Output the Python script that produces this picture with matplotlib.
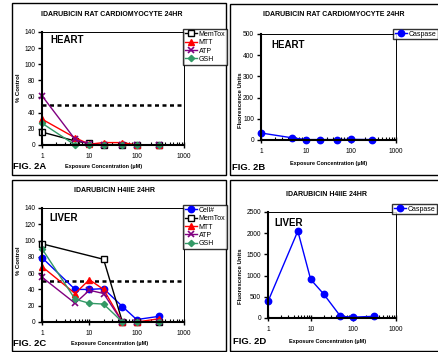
import matplotlib
matplotlib.use("Agg")
import matplotlib.pyplot as plt
from matplotlib.patches import Rectangle
from matplotlib.ticker import LogLocator, NullFormatter, FixedLocator

plt.rcParams['font.family'] = ['Liberation Sans', 'DejaVu Sans']

# ---------------- data ----------------
conc = [1, 5, 10, 20, 50, 100, 300]
heart_memtox = [16, 5, 2, 0, 0, 0, 0]
heart_mtt = [32, 9, 1, 3, 3, 0, 0]
heart_atp = [61, 7, 1, 0, 0, 0, 0]
heart_gsh = [27, 0, 0, 0, 0, 0, 0]
heart_caspase = [33, 10, 2, 2, 2, 3, 2]

liver_memtox_conc = [1, 20, 50, 100, 300]
liver_memtox = [96, 77, 0, 0, 0]
liver_cell = [79, 40, 40, 41, 19, 3, 7]
liver_mtt = [68, 35, 52, 40, 0, 0, 4]
liver_atp = [55, 23, 39, 35, 0, 0, 0]
liver_gsh = [90, 28, 23, 22, 0, 0, 0]
liver_caspase = [390, 2050, 910, 570, 40, 20, 40]

xticks = [1, 10, 100, 1000]
pct_yticks = [0, 20, 40, 60, 80, 100, 120, 140]
heart_cas_yticks = [0, 100, 200, 300, 400, 500]
liver_cas_yticks = [0, 500, 1000, 1500, 2000, 2500]

W, H = 438, 352
fig = plt.figure(figsize=(W / 100, H / 100), dpi=100)
fig.patch.set_facecolor('white')


def fx(x):
    return x / W


def fy(y):
    return 1 - y / H


def add_ax(l, t, r, b):
    return fig.add_axes([l / W, 1 - b / H, (r - l) / W, (b - t) / H])


def frame(l, t, r, b):
    fig.add_artist(Rectangle((fx(l), fy(b)), (r - l) / W, (b - t) / H,
                             transform=fig.transFigure, fill=False,
                             edgecolor='black', linewidth=1.0))


def ftext(x, y, s, **kw):
    fig.text(fx(x), fy(y), s, **kw)


def style_ax(ax, yticks):
    ax.set_xscale('log')
    ax.set_xlim(1, 1000)
    ax.set_ylim(yticks[0], yticks[-1])
    ax.xaxis.set_major_locator(FixedLocator(xticks))
    ax.set_xticklabels([str(v) for v in xticks])
    ax.xaxis.set_minor_locator(LogLocator(base=10, subs=range(2, 10)))
    ax.xaxis.set_minor_formatter(NullFormatter())
    ax.set_yticks(yticks)
    ax.set_yticklabels([str(v) for v in yticks])
    for s in ['left', 'bottom']:
        ax.spines[s].set_linewidth(1.5)
    for s in ['top', 'right']:
        ax.spines[s].set_linewidth(0.7)
    ax.tick_params(axis='x', which='major', direction='inout', length=4,
                   width=1, labelsize=4.8, pad=4)
    ax.tick_params(axis='x', which='minor', direction='in', length=2.5, width=0.8)
    ax.tick_params(axis='y', which='major', direction='out', length=3,
                   width=1, labelsize=4.8, pad=2)


mk = dict(markersize=4.6, linewidth=1.0)
s_cell = dict(color='#0000FF', marker='o', **mk)
s_mem = dict(color='black', marker='s', markerfacecolor='white', **mk)
s_mtt = dict(color='#FF0000', marker='^', **mk)
s_atp = dict(color='#800080', marker='x', markeredgewidth=1.2, **mk)
s_gsh = dict(color='#339966', marker='D', markersize=3.2, linewidth=1.0)
s_cas = dict(color='#0000FF', marker='o', **mk)

leg_kw = dict(loc='upper left', fontsize=5, frameon=True, fancybox=False,
              edgecolor='black', borderpad=0.25, handlelength=1.8,
              handletextpad=0.2, labelspacing=0.2, borderaxespad=0)

dash = dict(color='black', linewidth=1.8, linestyle=(0, (1.6, 1.4)))

# ---------- Panel A ----------
frame(12, 3, 226, 175)
axA = add_ax(42, 32, 184, 145)
axA.axhline(50, **dash)
lA = []
lA += axA.plot(conc, heart_memtox, label='MemTox', **s_mem)
lA += axA.plot(conc, heart_mtt, label='MTT', **s_mtt)
lA += axA.plot(conc, heart_atp, label='ATP', **s_atp)
lA += axA.plot(conc, heart_gsh, label='GSH', **s_gsh)
style_ax(axA, pct_yticks)
for l in lA:
    l.set_clip_on(False)
fig.legend(handles=lA, bbox_to_anchor=(fx(183), fy(29)), **leg_kw)
ftext(112, 15, 'IDARUBICIN RAT CARDIOMYOCYTE 24HR', fontsize=5,
      fontweight='bold', ha='center', va='center')
ftext(50, 40, 'HEART', fontsize=7, fontweight='bold', ha='left', va='center')
ftext(13, 166, 'FIG. 2A', fontsize=6.8, fontweight='bold', ha='left', va='center')
ftext(104, 166, 'Exposure Concentration (\u00b5M)', fontsize=4.0,
      fontweight='bold', ha='center', va='center')
ftext(18, 88, '% Control', fontsize=4.3, fontweight='bold', ha='center',
      va='center', rotation=90)

# ---------- Panel B ----------
frame(230, 4, 445, 175)
axB = add_ax(261, 34, 396, 140)
lB = axB.plot(conc, heart_caspase, label='Caspase', **s_cas)
style_ax(axB, heart_cas_yticks)
for l in lB:
    l.set_clip_on(False)
fig.legend(handles=lB, bbox_to_anchor=(fx(393), fy(29)), **leg_kw)
ftext(334, 15, 'IDARUBICIN RAT CARDIOMYOCYTE 24HR', fontsize=5,
      fontweight='bold', ha='center', va='center')
ftext(271, 45, 'HEART', fontsize=7, fontweight='bold', ha='left', va='center')
ftext(232, 168, 'FIG. 2B', fontsize=6.8, fontweight='bold', ha='left', va='center')
ftext(329, 163, 'Exposure Concentration (\u00b5M)', fontsize=4.0,
      fontweight='bold', ha='center', va='center')
ftext(240, 100, 'Fluorescence Units', fontsize=4.3, fontweight='bold',
      ha='center', va='center', rotation=90)

# ---------- Panel C ----------
frame(12, 180, 226, 351)
axC = add_ax(42, 208, 184, 322)
axC.axhline(50, **dash)
lC = []
lC += axC.plot(conc, liver_cell, label='Cell#', **s_cell)
lC += axC.plot(liver_memtox_conc, liver_memtox, label='MemTox', **s_mem)
lC += axC.plot(conc, liver_mtt, label='MTT', **s_mtt)
lC += axC.plot(conc, liver_atp, label='ATP', **s_atp)
lC += axC.plot(conc, liver_gsh, label='GSH', **s_gsh)
style_ax(axC, pct_yticks)
for l in lC:
    l.set_clip_on(False)
fig.legend(handles=lC, bbox_to_anchor=(fx(183), fy(205)), **leg_kw)
ftext(115, 191, 'IDARUBICIN H4IIE 24HR', fontsize=5,
      fontweight='bold', ha='center', va='center')
ftext(49, 218, 'LIVER', fontsize=7, fontweight='bold', ha='left', va='center')
ftext(13, 344, 'FIG. 2C', fontsize=6.8, fontweight='bold', ha='left', va='center')
ftext(110, 344, 'Exposure Concentration (\u00b5M)', fontsize=4.0,
      fontweight='bold', ha='center', va='center')
ftext(18, 261, '% Control', fontsize=4.3, fontweight='bold', ha='center',
      va='center', rotation=90)

# ---------- Panel D ----------
frame(230, 180, 445, 351)
axD = add_ax(268, 212, 396, 318)
lD = axD.plot(conc, liver_caspase, label='Caspase', **s_cas)
style_ax(axD, liver_cas_yticks)
for l in lD:
    l.set_clip_on(False)
fig.legend(handles=lD, bbox_to_anchor=(fx(392), fy(204)), **leg_kw)
ftext(327, 194, 'IDARUBICIN H4IIE 24HR', fontsize=5,
      fontweight='bold', ha='center', va='center')
ftext(274, 223, 'LIVER', fontsize=7, fontweight='bold', ha='left', va='center')
ftext(233, 342, 'FIG. 2D', fontsize=6.8, fontweight='bold', ha='left', va='center')
ftext(328, 342, 'Exposure Concentration (\u00b5M)', fontsize=4.0,
      fontweight='bold', ha='center', va='center')
ftext(240, 276, 'Fluorescence Units', fontsize=4.3, fontweight='bold',
      ha='center', va='center', rotation=90)

fig.savefig('out.png', dpi=100, facecolor='white')
